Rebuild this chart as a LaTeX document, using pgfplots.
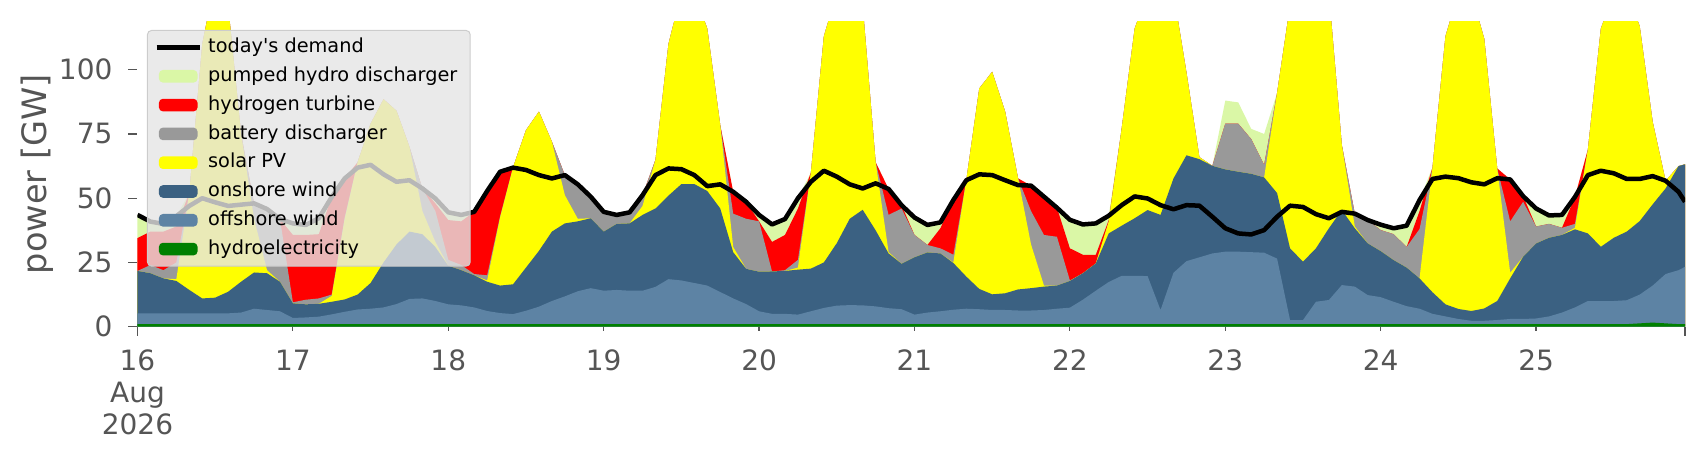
\documentclass[border=0pt]{standalone}
\usepackage{fontspec}
\setmainfont{DejaVu Sans}
\usepackage{pgfplots}
\usepackage{pgfplotstable}
\pgfplotsset{compat=1.18}
\definecolor{cPH}{HTML}{DAF7A6}
\definecolor{cHH}{HTML}{FF0000}
\definecolor{cBat}{HTML}{999999}
\definecolor{cSol}{HTML}{FFFF00}
\definecolor{cOn}{HTML}{3B6182}
\definecolor{cOff}{HTML}{5D83A4}
\definecolor{cHy}{HTML}{008000}
\definecolor{cTick}{HTML}{555555}
\definecolor{cLegBg}{HTML}{E5E5E5}
\definecolor{cLegEdge}{HTML}{CCCCCC}
% cumulative tops of the stacked areas (GW), hour since 16 Aug 00:00
\pgfplotstableread{
h hy off on sol bat hh ph dem
0 1 5.2 21.7 21.7 21.7 34.5 43.5 43.5
2 1 5.2 20.8 20.8 24 37 40.9 40.9
4 1 5.2 18.8 18.8 22 37 40 40
6 1 5.2 17.8 18.5 25 39 43 43
8 1 5.2 14.3 52 52 52 52 47
10 1 5.2 11 110 110 110 110 50
12 1 5.2 11.3 135 135 135 135 48.4
14 1 5.2 13.6 125 125 125 125 47
16 1 5.5 17.5 75 75 75 75 47.5
18 1 7 21.1 42 48 48 48 48
20 1 6.5 20.8 22 45.8 45.8 45.8 45.8
22 1 6 17.5 17.5 41.9 41.9 41.9 41.9
24 1 3.4 9.1 9.1 9.5 35.7 40.2 40.2
26 1 3.6 8.7 8.7 10.5 35.7 39.6 39.6
28 1 3.9 8.9 8.9 11 36 42.2 42.2
30 1 4.8 9.7 12 12.5 50.5 50.5 50.5
32 1 5.8 10.6 42 42.5 57.7 57.7 57.7
34 1 6.7 12.5 64 64 64 64 61.9
36 1 7 17 79 79 79 79 63
38 1 7.5 25 88.5 88.5 88.5 88.5 59.3
40 1 8.8 32 84 84 84 84 56.4
42 1 10.8 37 70 70 70 70 57
44 1 11 36 45 53.8 53.8 53.8 53.8
46 1 10 31 33 45 48 49.9 49.9
48 1 8.7 23.7 23.7 26 41.5 44.5 44.5
50 1 8.3 22 22 24 41 43.5 43.5
52 1 7.5 20 20 20.5 44.7 44.7 44.7
54 1 6.1 17.5 18 20 52.8 52.8 52.8
56 1 5.3 16 42.5 43 60.3 60.3 60.3
58 1 4.9 16.5 62 62 62 62 61.9
60 1 6.2 23 76.5 76.5 76.5 76.5 61
62 1 7.8 29.5 83.7 83.7 83.7 83.7 59
64 1 10 37 72 72 72 72 57.7
66 1 11.8 40.2 51.2 59 59 59 59
68 1 13.8 41 42 55.4 55.4 55.4 55.4
70 1 15 42.2 42.2 50.6 50.6 50.6 50.6
72 1 14 37 37 44.7 44.7 44.7 44.7
74 1 14.3 40 40 43.5 43.5 43.5 43.5
76 1 14 40.2 40.2 44.5 44.5 44.5 44.5
78 1 14 43.5 47 51.2 51.2 51.2 51.2
80 1 15.5 46 65 65 65 65 59
82 1 18.5 51 110 110 110 110 61.6
84 1 18 55.5 130 130 130 130 61.3
86 1 17 55.5 130 130 130 130 59
88 1 16 52.8 116 116 116 116 54.7
90 1 13.5 46 78.5 78.5 78.5 78.5 55.4
92 1 11 29 31 44 52.5 52.5 52.5
94 1 8.8 22.5 22.5 42 48.6 48.6 48.6
96 1 6 21.4 21.4 41 41 43.5 43.5
98 1 5 21.5 21.5 21.5 33 39.8 39.8
100 1 5 21.7 21.7 22 35.7 41.9 41.9
102 1 4.7 22.2 23 26 46 50 50
104 1 6 22.6 60 60 60 60 56.4
106 1 7.3 25 113 113 113 113 60.7
108 1 8.2 32.5 130 130 130 130 58.4
110 1 8.4 42 130 130 130 130 55.4
112 1 8.3 45.5 125 125 125 125 53.8
114 1 7.9 37.5 64 64 64 64 55.8
116 1 7.2 28.5 29 43.5 53.6 53.6 53.6
118 1 6.8 24.5 24.5 46 47.3 47.3 47.3
120 1 4.7 27 27 35.7 35.7 42.5 42.5
122 1 5.5 28.9 28.9 31.8 31.8 39.6 39.6
124 1 6 28.5 28.5 30.5 38.3 40.6 40.6
126 1 6.6 24.8 25 28 49.3 49.3 49.3
128 1 7 19.5 57 57 57 57 57
130 1 6.8 14.7 92.7 92.7 92.7 92.7 59.3
132 1 6.5 12.6 99.2 99.2 99.2 99.2 59
134 1 6.5 13 83.7 83.7 83.7 83.7 57
136 1 6.3 14.5 57.7 57.7 57.7 57.7 55.1
138 1 6.3 15 32 45 54.9 54.9 54.9
140 1 6.5 15.6 16 35.7 50.6 50.6 50.6
142 1 7 16 16 35 46.3 46.3 46.3
144 1 7.4 17.8 17.8 18 30.5 41.6 41.6
146 1 10.5 20.8 20.8 20.8 28 39.8 39.8
148 1 14 24.6 24.6 24.6 28 40.2 40.2
150 1 17.4 36.3 40.9 40.9 41.5 43.2 43.2
152 1 19.8 39.3 77.2 77.2 77.2 77.2 47.3
154 1 19.8 42.2 116 116 116 116 50.7
156 1 19.7 45.4 130 130 130 130 49.9
158 1 6.5 43.5 130 130 130 130 47.3
160 1 21 57.7 130 130 130 130 45.7
162 1 25.5 66.7 99 99 99 99 47.3
164 1 27 65.2 66 66 66 66 47.1
166 1 28.5 62.6 62.6 62.6 62.6 62.6 42.8
168 1 29.2 61.2 61.2 79 79 88 38.3
170 1 29.2 60.3 60.3 79 79 87.3 36.3
172 1 29 59.5 59.5 73 73 77 35.9
174 1 28.8 58.1 58.1 63 63 75 37.6
176 1 26.5 52 91 91 91 91 42.8
178 1 2.6 30.5 125 125 125 125 47.1
180 1 2.6 25.3 130 130 130 130 46.6
182 1 9.7 30.5 130 130 130 130 43.8
184 1 10.4 38.3 130 130 130 130 42.2
186 1 16.2 45.4 70.7 70.7 70.7 70.7 44.7
188 1 15.6 38.3 39 44 44 44 44
190 1 12.3 32.4 32.4 41.5 41.5 41.5 41.5
192 1 11.5 29.4 29.4 37.6 37.6 39.7 39.7
194 1 9.7 25.9 25.9 36 36 38.3 38.3
196 1 8 23 23 31 31 39.3 39.3
198 1 7 18.8 18.8 38 45 49.3 49.3
200 1 5 13.4 62 62 62 62 57.5
202 1 4 8.7 113 113 113 113 58.4
204 1 3 6.9 130 130 130 130 57.8
206 1 2.3 6.1 130 130 130 130 56.2
208 1 2.3 7.1 112 112 112 112 55.4
210 1 2.6 10 61.6 61.6 61.6 61.6 57.8
212 1 3 18.8 21 41 57.3 57.3 57.3
214 1 3 27.2 27.2 48.6 50.8 50.8 50.8
216 1 3.2 32.4 32.4 39 39 46 46
218 1 4 34.6 34.6 40 40 43.3 43.3
220 1 5.5 35.7 35.7 38.5 38.5 43.5 43.5
222 1 7.5 37.9 38.5 40 50.5 50.5 50.5
224 1 10 36.3 69 69 69 69 59
226 1 10 31.1 116 116 116 116 60.7
228 1 10 34.6 130 130 130 130 59.7
230 1 10.3 37 130 130 130 130 57.5
232 1.3 12.5 41.1 117 117 117 117 57.5
234 1.6 16 47.6 79.8 79.8 79.8 79.8 58.6
236 1.3 20.5 53.8 56.8 56.8 56.8 56.8 56.8
238 1 22 62.5 62.5 62.5 62.5 62.5 52.5
239 1 23.3 63.2 63.2 63.2 63.2 63.2 48.6
}\data

\pgfplotsset{
  patchleg/.style={legend image code/.code={
    \fill[##1, fill opacity=1, draw=none] (0pt,-3.15pt) rectangle (19.3pt,3.15pt);}},
}

\begin{document}
\begin{tikzpicture}
\useasboundingbox (-68.75pt,-66.65pt) rectangle (784.25pt,163.35pt);
\begin{axis}[
  at={(0pt,0pt)}, anchor=south west,
  scale only axis, width=773.75pt, height=152.5pt,
  xmin=0, xmax=239, ymin=0, ymax=118.7,
  axis lines*=left, axis line style={draw=none,-},
  tick align=outside,
  major tick length=4.5pt,
  every tick/.style={cTick, line width=0.6pt},
  xtick={0,239}, xticklabels={{},{}},
  extra x ticks={0,24,48,72,96,120,144,168,192,216},
  extra x tick labels={{16\\Aug\\2026},17,18,19,20,21,22,23,24,25},
  extra x tick style={major tick length=2pt},
  xticklabel style={align=center, font=\fontsize{14}{16.1}\selectfont, text=cTick, yshift=-6pt},
  ytick={0,25,50,75,100},
  yticklabel style={font=\fontsize{14}{16.8}\selectfont, text=cTick, xshift=-4.5pt},
  /pgf/number format/assume math mode=true,
  ylabel={power [GW]},
  ylabel style={at={(axis description cs:-0.0646,0.5)}, anchor=center,
    font=\fontsize{16.8}{20}\selectfont, text=cTick},
  legend cell align=left,
  legend style={
    at={(axis description cs:0.00614,0.9728)}, anchor=north west,
    fill=cLegBg, fill opacity=0.8, draw=cLegEdge, draw opacity=1, text opacity=1,
    rounded corners=2pt, line width=0.5pt,
    font=\fontsize{9.65}{11.6}\selectfont,
    inner xsep=3.4pt, inner ysep=2.5pt,
    row sep=2.4pt,
    nodes={inner xsep=3pt, inner ysep=1pt, text height=7.6pt, text depth=2.4pt},
  },
]
\addlegendimage{legend image code/.code={\draw[black, line width=2.25pt] (-1.2pt,0pt) -- (20.5pt,0pt);}}
\addlegendentry{today\textquotesingle s demand}
\addplot[fill=cPH, draw=none, patchleg] table[x=h, y=ph]{\data} \closedcycle;
\addlegendentry{pumped hydro discharger}
\addplot[fill=cHH, draw=none, patchleg] table[x=h, y=hh]{\data} \closedcycle;
\addlegendentry{hydrogen turbine}
\addplot[fill=cBat, draw=none, patchleg] table[x=h, y=bat]{\data} \closedcycle;
\addlegendentry{battery discharger}
\addplot[fill=cSol, draw=none, patchleg] table[x=h, y=sol]{\data} \closedcycle;
\addlegendentry{solar PV}
\addplot[fill=cOn, draw=none, patchleg] table[x=h, y=on]{\data} \closedcycle;
\addlegendentry{onshore wind}
\addplot[fill=cOff, draw=none, patchleg] table[x=h, y=off]{\data} \closedcycle;
\addlegendentry{offshore wind}
\addplot[fill=cHy, draw=none, patchleg] table[x=h, y=hy]{\data} \closedcycle;
\addlegendentry{hydroelectricity}
\addplot[black, line width=2.25pt, line join=round, forget plot] table[x=h, y=dem]{\data};
\end{axis}
\end{tikzpicture}
\end{document}
